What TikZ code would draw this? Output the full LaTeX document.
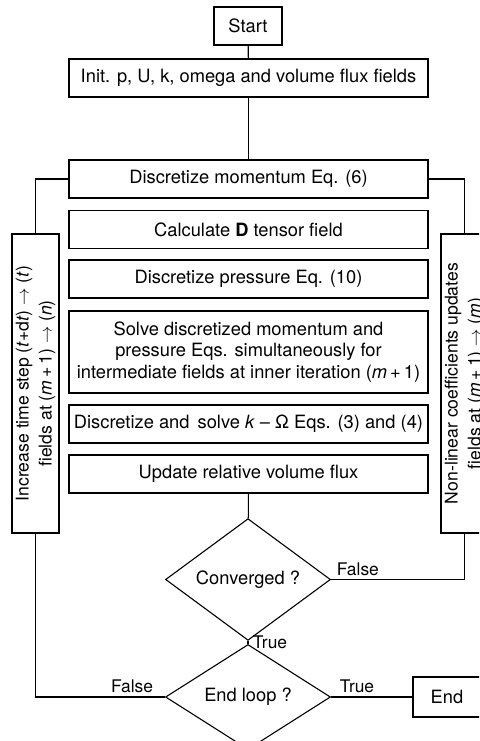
\documentclass[tikz,border=0pt]{standalone}
\usepackage{fontspec}
\setmainfont{TeX Gyre Heros}
\usetikzlibrary{shapes.geometric}

\tikzset{
  stepbox/.style={draw, minimum width=359pt, minimum height=38pt, inner sep=1pt, align=center},
  sidebox/.style={draw, rotate=90, minimum width=299pt, minimum height=47pt, inner sep=0pt, align=center,
    font=\fontsize{17.6}{23}\selectfont},
  decision/.style={draw, diamond, minimum width=165pt, minimum height=95pt, inner sep=0pt},
  termbox/.style={draw, minimum width=68pt, minimum height=38pt},
  flag/.style={font=\fontsize{17.4}{20}\selectfont}
}

\begin{document}
\begin{tikzpicture}[x=1pt, y=-1pt, line width=1.1pt, font=\fontsize{18.3}{21.5}\selectfont]
\clip (0,0) rectangle (479,741);

% Main column
\node[termbox] (start) at (248,26) {Start};
\node[stepbox] (init) at (248.5,78) {Init. p, U, k, omega and volume flux fields};
\node[stepbox] (mom) at (248.5,179) {Discretize momentum Eq. (6)};
\node[stepbox] (dten) at (248.5,229.5) {Calculate \textbf{D} tensor field};
\node[stepbox] (pres) at (248.5,279) {Discretize pressure Eq. (10)};
\node[stepbox, minimum height=82pt] (solve) at (248.5,352) {Solve discretized momentum and\\
  pressure Eqs. simultaneously for\\
  intermediate fields at inner iteration (\textit{m}\,+\,1)};
\node[stepbox] (komega) at (248.5,424) {Discretize and\, solve \textit{k} – Ω Eqs. (3) and (4)};
\node[stepbox] (upd) at (248.5,474) {Update relative volume flux};

% Decisions
\node[decision] (conv) at (248,579.5) {Converged ?};
\node[decision, minimum height=96pt] (endl) at (248,697) {End loop ?};
\node[termbox, minimum height=40pt] (end) at (447,697) {End};

% Side loops
\node[sidebox] (left) at (35.5,383.5) {Increase time step (\textit{t}+d\textit{t}) $\rightarrow$ (\textit{t})\\
  fields at (\textit{m}\,+\,1) $\rightarrow$ (\textit{n})};
\node[sidebox] (right) at (464.5,383.5) {Non-linear coefficients updates\\
  fields at (\textit{m}\,+\,1) $\rightarrow$ (\textit{m})};

% Connectors
\draw (start) -- (init);
\draw (init) -- (mom);
\draw (mom.west) -| (left.east);
\draw (mom.east) -| (right.east);
\draw (upd) -- (conv);
\draw (conv.south) -- node[flag, right, xshift=1pt] {True} (endl.north);
\draw (conv.east) node[flag, above right, xshift=2pt] {False} -| (right.west);
\draw (endl.west) node[flag, above left, xshift=-8pt] {False} -| (left.west);
\draw (endl.east) node[flag, above right, xshift=5pt] {True} -- (end.west);

\end{tikzpicture}
\end{document}
